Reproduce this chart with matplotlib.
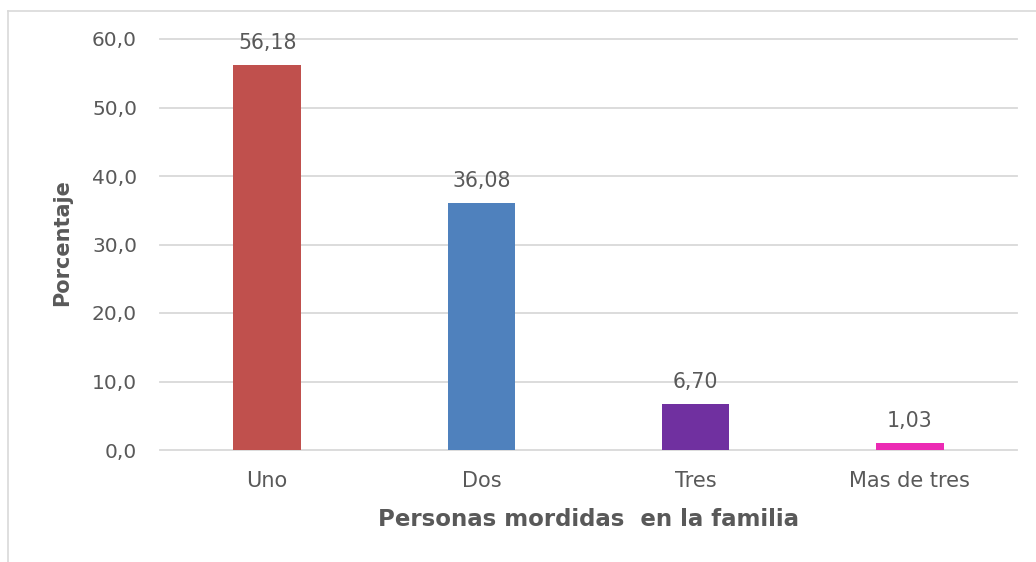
import matplotlib
matplotlib.use("Agg")
import matplotlib.pyplot as plt
from matplotlib.lines import Line2D

categories = ["Uno", "Dos", "Tres", "Mas de tres"]
values = [56.18, 36.08, 6.70, 1.03]
labels = ["56,18", "36,08", "6,70", "1,03"]
colors = ["#C0504D", "#4F81BD", "#7030A0", "#EC2AB4"]
yticks = [0, 10, 20, 30, 40, 50, 60]
ytick_labels = ["0,0", "10,0", "20,0", "30,0", "40,0", "50,0", "60,0"]

plt.rcParams["font.family"] = ["DejaVu Sans"]
txt = "#595959"

fig = plt.figure(figsize=(10.36, 5.62), dpi=100)
W, H = 1036, 562
ax = fig.add_axes([160 / W, 1 - 450 / H, (1017 - 160) / W, (450 - 39) / H])

x = range(len(categories))
ax.bar(x, values, width=0.315, color=colors, zorder=3)
for xi, v, lab in zip(x, values, labels):
    ax.annotate(lab, (xi, v), xytext=(0, 11.5), textcoords="offset points",
                ha="center", va="baseline", fontsize=14.8, color=txt)

ax.set_xlim(-0.5, 3.5)
ax.set_ylim(0, 60)
ax.set_yticks(yticks)
ax.set_yticklabels(ytick_labels, fontsize=14.5, color=txt)
ax.set_xticks(list(x))
ax.set_xticklabels(categories, fontsize=15, color=txt)
ax.tick_params(axis="both", length=0)
ax.tick_params(axis="y", pad=16.5)
ax.tick_params(axis="x", pad=15)
ax.grid(axis="y", color="#D9D9D9", linewidth=1.3, zorder=0)
for gl in ax.get_ygridlines():
    gl.set_clip_on(False)
for s in ax.spines.values():
    s.set_visible(False)

fig.text(588 / W, 1 - 519 / H, "Personas mordidas  en la familia", fontsize=16.5,
         fontweight="bold", color=txt, ha="center", va="center")
fig.text(62 / W, 1 - 243 / H, "Porcentaje", fontsize=15, fontweight="bold",
         color=txt, ha="center", va="center", rotation=90)

# outer frame (top and left visible)
fig.add_artist(Line2D([8 / W, 8 / W], [0, 1 - 10.5 / H], transform=fig.transFigure,
                      color="#D9D9D9", linewidth=1.2))
fig.add_artist(Line2D([8 / W, 1], [1 - 10.5 / H, 1 - 10.5 / H], transform=fig.transFigure,
                      color="#D9D9D9", linewidth=1.2))

fig.savefig("out.png", dpi=100, facecolor="white")
